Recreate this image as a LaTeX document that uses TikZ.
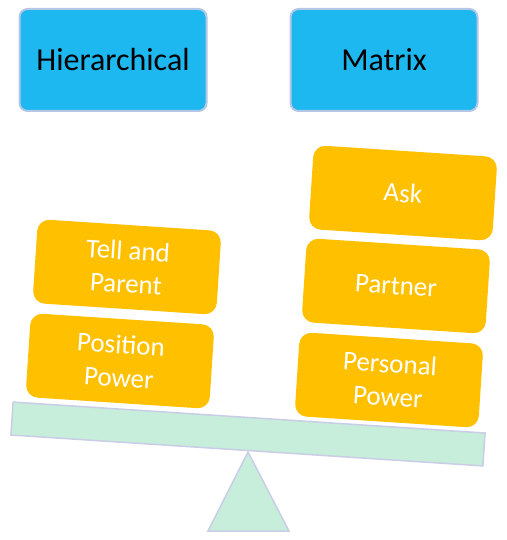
\documentclass[tikz,border=0pt]{standalone}
\usepackage{fontspec}
\setmainfont{Carlito}
\usepackage{xcolor}
\usetikzlibrary{positioning, calc}
\definecolor{headblue}{RGB}{29, 184, 240}
\definecolor{headedge}{RGB}{180, 199, 231}
\definecolor{weightgold}{RGB}{255, 192, 0}
\definecolor{beammint}{RGB}{199, 238, 218}
\definecolor{beamedge}{RGB}{201, 205, 230}

\begin{document}
\begin{tikzpicture}[x=1pt, y=-1pt,
    header/.style={draw=headedge, line width=2pt, fill=headblue, rounded corners=8pt,
        minimum width=187pt, minimum height=102pt, font=\fontsize{32}{38}\selectfont},
    weight/.style={fill=weightgold, rounded corners=12pt, rotate=-3.75, text=white,
        minimum width=184pt, minimum height=84pt, align=center, font=\fontsize{27}{33}\selectfont},
    seesaw/.style={draw=beamedge, line width=1.5pt, fill=beammint}]
    \useasboundingbox (0,0) rectangle (506,540);
    % Headers
    \node[header] (hier) at (113,60) {Hierarchical};
    \node[header] (matrix) at (384,60) {Matrix};
    % Beam
    \node[seesaw, rotate=-3.75, minimum width=473pt, minimum height=33pt, inner sep=0pt] (beam) at (248,434) {};
    % Pivot
    \coordinate (apex) at (248,452);
    \coordinate (baseL) at (208,531);
    \coordinate (baseR) at (289,531);
    \filldraw[seesaw] (apex) -- (baseR) -- (baseL) -- cycle;
    % Left pan
    \node[weight] (position) at (120,361) {Position\\Power};
    \node[weight] (tell) at (127,267) {Tell and\\Parent};
    % Right pan
    \node[weight] (personal) at (389,380) {Personal\\Power};
    \node[weight] (partner) at (396,286) {Partner};
    \node[weight] (ask) at (403,193) {Ask};
\end{tikzpicture}
\end{document}
